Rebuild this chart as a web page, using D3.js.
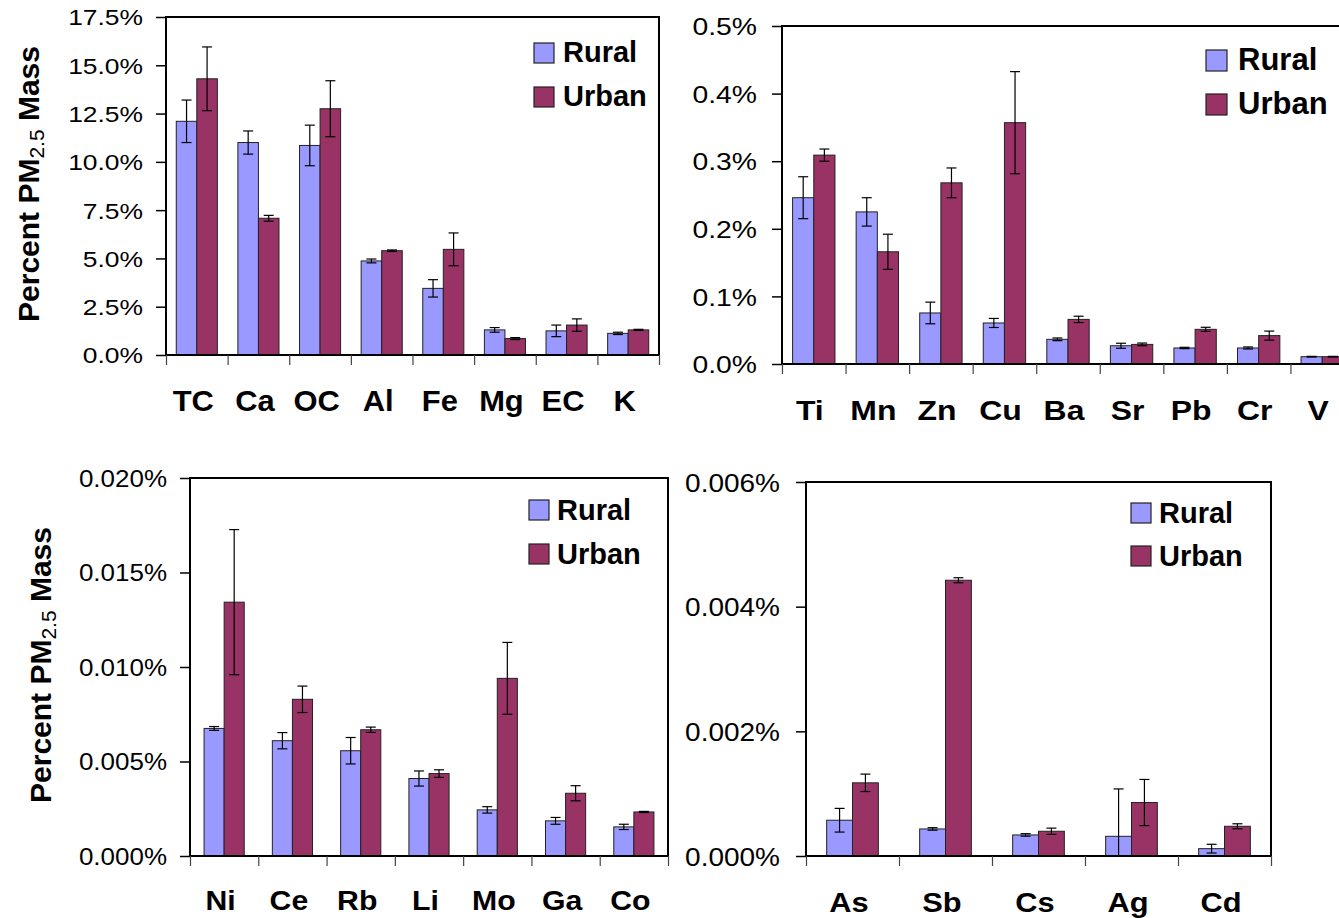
<!DOCTYPE html>
<html>
<head>
<meta charset="utf-8">
<script src="https://cdn.jsdelivr.net/npm/d3@7"></script>
<style>
  html, body { margin: 0; padding: 0; background: #fff; }
  svg { display: block; }
</style>
</head>
<body>
<div id="chart"></div>
<script>
// ---------------- DATA (percent of PM2.5 mass) ----------------
const seriesNames = ["Rural", "Urban"];

const cats1 = ["TC", "Ca", "OC", "Al", "Fe", "Mg", "EC", "K"];
const rural1 = [12.1, 11.0, 10.85, 4.87, 3.45, 1.3, 1.25, 1.12];
const ruralErr1 = [1.1, 0.6, 1.05, 0.1, 0.45, 0.12, 0.3, 0.06];
const urban1 = [14.3, 7.08, 12.75, 5.4, 5.47, 0.85, 1.55, 1.3];
const urbanErr1 = [1.65, 0.15, 1.45, 0.04, 0.85, 0.05, 0.32, 0.03];
const yTicks1 = [0, 2.5, 5, 7.5, 10, 12.5, 15, 17.5];
const yLabels1 = ["0.0%", "2.5%", "5.0%", "7.5%", "10.0%", "12.5%", "15.0%", "17.5%"];

const cats2 = ["Ti", "Mn", "Zn", "Cu", "Ba", "Sr", "Pb", "Cr", "V"];
const rural2 = [0.246, 0.225, 0.0755, 0.0607, 0.0365, 0.027, 0.0237, 0.0237, 0.0108];
const ruralErr2 = [0.031, 0.021, 0.016, 0.0067, 0.002, 0.0037, 0.001, 0.0015, 0.0005];
const urban2 = [0.309, 0.166, 0.268, 0.357, 0.066, 0.029, 0.0513, 0.042, 0.0108];
const urbanErr2 = [0.009, 0.026, 0.022, 0.0755, 0.0047, 0.002, 0.003, 0.0067, 0.0005];
const yTicks2 = [0, 0.1, 0.2, 0.3, 0.4, 0.5];
const yLabels2 = ["0.0%", "0.1%", "0.2%", "0.3%", "0.4%", "0.5%"];

const cats3 = ["Ni", "Ce", "Rb", "Li", "Mo", "Ga", "Co"];
const rural3 = [0.00675, 0.0061, 0.00557, 0.0041, 0.00244, 0.00186, 0.00154];
const ruralErr3 = [0.0001, 0.00043, 0.0007, 0.0004, 0.00017, 0.00018, 0.00014];
const urban3 = [0.01343, 0.00829, 0.00668, 0.00436, 0.0094, 0.00332, 0.00233];
const urbanErr3 = [0.00384, 0.0007, 0.00014, 0.0002, 0.0019, 0.0004, 0.00003];
const yTicks3 = [0, 0.005, 0.010, 0.015, 0.020];
const yLabels3 = ["0.000%", "0.005%", "0.010%", "0.015%", "0.020%"];

const cats4 = ["As", "Sb", "Cs", "Ag", "Cd"];
const rural4 = [0.000574, 0.000434, 0.000338, 0.000316, 0.000118];
const ruralErr4 = [0.00019, 0.00002, 0.00002, 0.00076, 0.00007];
const urban4 = [0.001174, 0.004424, 0.000397, 0.000858, 0.000477];
const urbanErr4 = [0.00014, 0.00004, 0.00005, 0.00037, 0.00004];
const yTicks4 = [0, 0.002, 0.004, 0.006];
const yLabels4 = ["0.000%", "0.002%", "0.004%", "0.006%"];

const yTitle = ["Percent PM", "2.5", " Mass"];

// ---------------- LAYOUT / STYLE ----------------
const W = 1339, H = 918;
const colors = { Rural: "#9999FF", Urban: "#993366" };
const FONT = "'Liberation Sans', Arial, Helvetica, sans-serif";

const panels = [
  { cats: cats1, vals: [rural1, urban1], errs: [ruralErr1, urbanErr1], yMax: 17.5, yTicks: yTicks1, yLabels: yLabels1,
    l: 166, t: 17, r: 659, b: 355, gap: 1.0,
    tickFont: 22, tickSx: 1.2, labelRight: 143,
    xFont: 30, xSx: 1.03, xDx: -3.5, xBase: 411,
    leg: { bx: 534, by: [43, 87], box: 20, tx: 563, ty: [62, 106], font: 29 },
    title: { x: 39, y: 184 } },
  { cats: cats2, vals: [rural2, urban2], errs: [ruralErr2, urbanErr2], yMax: 0.5, yTicks: yTicks2, yLabels: yLabels2,
    l: 782, t: 26, r: 1354, b: 364, gap: 1.0,
    tickFont: 24, tickSx: 1.18, labelRight: 757,
    xFont: 28, xSx: 1.14, xDx: -4, xBase: 420,
    leg: { bx: 1206, by: [50, 94], box: 21, tx: 1238, ty: [70, 114], font: 31 },
    title: null },
  { cats: cats3, vals: [rural3, urban3], errs: [ruralErr3, urbanErr3], yMax: 0.020, yTicks: yTicks3, yLabels: yLabels3,
    l: 190, t: 478, r: 668, b: 856, gap: 1.4,
    tickFont: 23, tickSx: 1.13, labelRight: 167,
    xFont: 27, xSx: 1.12, xDx: -3.5, xBase: 910,
    leg: { bx: 529, by: [500, 544], box: 20, tx: 557, ty: [520, 564], font: 29 },
    title: { x: 51, y: 665 } },
  { cats: cats4, vals: [rural4, urban4], errs: [ruralErr4, urbanErr4], yMax: 0.006, yTicks: yTicks4, yLabels: yLabels4,
    l: 806, t: 482, r: 1271, b: 856, gap: 1.6,
    tickFont: 25, tickSx: 1.12, labelRight: 780,
    xFont: 28, xSx: 1.1, xDx: -3.5, xBase: 912,
    leg: { bx: 1131, by: [503, 546], box: 20, tx: 1159, ty: [523, 566], font: 29 },
    title: null }
];

// ---------------- DRAW ----------------
const svg = d3.select("#chart").append("svg")
  .attr("width", W).attr("height", H)
  .attr("viewBox", `0 0 ${W} ${H}`)
  .style("font-family", FONT);

svg.append("rect").attr("width", W).attr("height", H).attr("fill", "#fff");

panels.forEach(p => {
  const g = svg.append("g");
  const y = d3.scaleLinear().domain([0, p.yMax]).range([p.b, p.t]);
  const x0 = d3.scaleBand().domain(p.cats).range([p.l, p.r]).padding(0);
  const x1 = d3.scaleBand().domain(seriesNames).range([0, x0.bandwidth()])
    .paddingInner(0).paddingOuter(p.gap / 2);

  // bars
  seriesNames.forEach((s, si) => {
    const data = p.cats.map((c, i) => ({ c, v: p.vals[si][i], e: p.errs[si][i] }));
    g.append("g").selectAll("rect").data(data).join("rect")
      .attr("x", d => x0(d.c) + x1(s))
      .attr("y", d => y(d.v))
      .attr("width", x1.bandwidth())
      .attr("height", d => y(0) - y(d.v))
      .attr("fill", colors[s])
      .attr("stroke", "#222")
      .attr("stroke-width", 1);
  });

  // error bars
  seriesNames.forEach((s, si) => {
    const data = p.cats.map((c, i) => ({ c, v: p.vals[si][i], e: p.errs[si][i] }));
    const eg = g.append("g").attr("stroke", "#000").attr("stroke-width", 1.2);
    data.forEach(d => {
      const cx = x0(d.c) + x1(s) + x1.bandwidth() / 2;
      const hi = d.v + d.e;
      const lo = Math.max(0, d.v - d.e);
      eg.append("line").attr("x1", cx).attr("x2", cx).attr("y1", y(hi)).attr("y2", y(lo));
      eg.append("line").attr("x1", cx - 5).attr("x2", cx + 5).attr("y1", y(hi)).attr("y2", y(hi));
      if (d.v - d.e > 0) {
        eg.append("line").attr("x1", cx - 5).attr("x2", cx + 5).attr("y1", y(lo)).attr("y2", y(lo));
      }
    });
  });

  // plot frame
  g.append("rect")
    .attr("x", p.l).attr("y", p.t)
    .attr("width", p.r - p.l).attr("height", p.b - p.t)
    .attr("fill", "none").attr("stroke", "#000").attr("stroke-width", 2);

  // y axis
  const yg = g.append("g").attr("transform", `translate(${p.l},0)`)
    .call(d3.axisLeft(y).tickValues(p.yTicks).tickFormat((d, i) => p.yLabels[i]).tickSize(10).tickPadding(0));
  yg.select(".domain").remove();
  yg.selectAll(".tick line").attr("stroke", "#000").attr("stroke-width", 1.5);
  yg.selectAll(".tick text")
    .attr("x", 0)
    .attr("dy", "0.36em")
    .attr("transform", `translate(${p.labelRight - p.l},0) scale(${p.tickSx},1)`)
    .attr("fill", "#000")
    .style("font-family", FONT)
    .style("font-size", p.tickFont + "px");

  // x axis boundary ticks
  const xb = d3.scaleLinear().domain([0, p.cats.length]).range([p.l, p.r]);
  const xg = g.append("g").attr("transform", `translate(0,${p.b})`)
    .call(d3.axisBottom(xb).tickValues(d3.range(p.cats.length + 1)).tickFormat("").tickSize(10));
  xg.select(".domain").remove();
  xg.selectAll(".tick line").attr("stroke", "#444").attr("stroke-width", 1.2);

  // x category labels
  const xl = g.append("g").attr("transform", `translate(0,${p.b})`)
    .call(d3.axisBottom(x0).tickSize(0).tickPadding(0));
  xl.select(".domain").remove();
  xl.selectAll(".tick text")
    .attr("y", 0)
    .attr("dy", 0)
    .attr("transform", `translate(${p.xDx},${p.xBase - p.b}) scale(${p.xSx},1)`)
    .attr("fill", "#000")
    .style("font-family", FONT)
    .style("font-weight", "bold")
    .style("font-size", p.xFont + "px");

  // legend
  seriesNames.forEach((s, si) => {
    g.append("rect")
      .attr("x", p.leg.bx).attr("y", p.leg.by[si])
      .attr("width", p.leg.box).attr("height", p.leg.box)
      .attr("fill", colors[s]).attr("stroke", "#222").attr("stroke-width", 1.2);
    g.append("text")
      .attr("x", p.leg.tx).attr("y", p.leg.ty[si])
      .style("font-weight", "bold")
      .style("font-size", p.leg.font + "px")
      .attr("fill", "#000")
      .text(s);
  });

  // y title
  if (p.title) {
    const t = g.append("text")
      .attr("transform", `translate(${p.title.x},${p.title.y}) rotate(-90)`)
      .attr("text-anchor", "middle")
      .style("font-weight", "bold")
      .style("font-size", "30px")
      .attr("fill", "#000");
    t.append("tspan").text(yTitle[0]);
    t.append("tspan").attr("dy", "0.22em").style("font-size", "21px").style("font-weight", "normal").text(yTitle[1]);
    t.append("tspan").attr("dy", "-0.16em").text(yTitle[2]);
  }
});
</script>
</body>
</html>
